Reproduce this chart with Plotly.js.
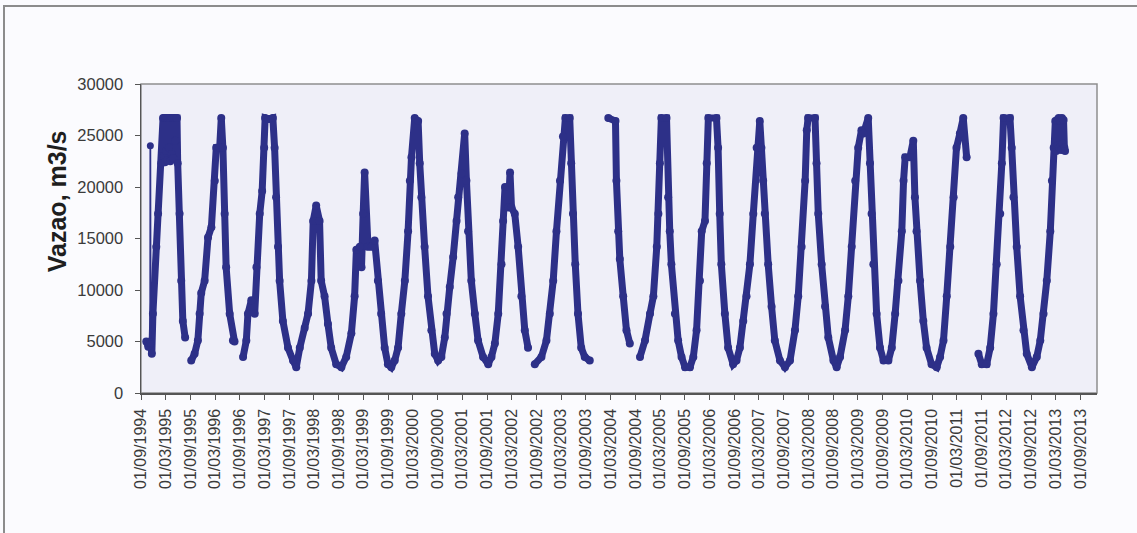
<!DOCTYPE html>
<html>
<head>
<meta charset="utf-8">
<script src="https://cdn.plot.ly/plotly-3.0.1.min.js"></script>
<style>
  html, body { margin: 0; padding: 0; background: #FBFBFE; overflow: hidden; }
  #chart { width: 1137px; height: 533px; }
  #frame { position: absolute; left: 3px; top: 5px; width: 1300px; height: 700px;
           border-left: 2px solid #8c8c8c; border-top: 2px solid #8c8c8c; pointer-events: none; }
</style>
</head>
<body>
<div id="chart"></div>
<div id="frame"></div>
<script>
// Daily flow (vazao, m3/s); null marks a gap in the record
const dates = [
  "1994-10-10","1994-10-25","1994-11-08","1994-11-11","1994-11-20","1994-11-28","1994-12-23",
  "1995-01-05","1995-01-29","1995-02-11","1995-02-16","1995-02-20","1995-02-25","1995-03-01",
  "1995-03-05","1995-03-10","1995-03-15","1995-03-20","1995-03-26","1995-04-01","1995-04-05",
  "1995-04-10","1995-04-16","1995-04-22","1995-04-28","1995-05-05","1995-05-12","1995-05-18",
  "1995-05-25","1995-05-30","1995-06-13",
  "1995-06-25","1995-07-07","1995-07-24","1995-08-15",
  "1995-09-07","1995-10-02","1995-10-26","1995-11-08","1995-11-20","1995-12-15","1996-01-09",
  "1996-02-03","1996-02-28","1996-03-10","1996-04-04","1996-04-16","1996-04-28","1996-05-11",
  "1996-05-22","1996-06-17","1996-07-11","1996-07-23","1996-08-15",
  "1996-09-24","1996-10-18","1996-10-30","1996-11-24","1996-12-19","1997-01-01","1997-01-25",
  "1997-02-12","1997-02-27","1997-03-06","1997-04-01","1997-05-02","1997-05-15","1997-05-26",
  "1997-06-09","1997-06-21","1997-07-15","1997-08-22","1997-09-28","1997-10-22","1997-11-17",
  "1997-12-23","1998-01-17","1998-02-11","1998-02-24","1998-03-18","1998-04-12","1998-04-24",
  "1998-05-19","1998-06-13","1998-07-07","1998-08-13","1998-09-20","1998-10-26","1998-12-03",
  "1998-12-27","1999-01-09","1999-02-04","1999-02-16","1999-02-28","1999-03-11","1999-04-05",
  "1999-04-29","1999-05-24","1999-06-17","1999-07-11","1999-08-06","1999-08-30","1999-09-24",
  "1999-10-19","1999-11-13","1999-12-07","2000-01-02","2000-01-26","2000-02-08","2000-02-20",
  "2000-03-15","2000-04-09","2000-04-21","2000-05-03","2000-05-27","2000-06-21","2000-07-16",
  "2000-08-10","2000-09-04","2000-09-28","2000-10-23","2000-11-05","2000-11-29","2000-12-24",
  "2001-01-18","2001-01-30","2001-02-24","2001-03-19","2001-04-01","2001-04-13","2001-05-07",
  "2001-06-02","2001-06-26","2001-08-02","2001-09-09","2001-10-03","2001-10-28","2001-11-22",
  "2001-12-16","2001-12-28","2002-01-11","2002-02-05","2002-02-17","2002-02-28","2002-03-24",
  "2002-04-18","2002-05-12","2002-06-06","2002-06-30","2002-07-25",
  "2002-08-19","2002-10-07","2002-11-13","2002-12-08","2003-01-02","2003-01-26","2003-02-21",
  "2003-03-15","2003-04-02","2003-05-04","2003-05-15","2003-05-28","2003-06-14","2003-07-04",
  "2003-07-28","2003-08-23","2003-09-29","2003-12-01",
  "2004-02-13","2004-04-06","2004-04-13","2004-04-26","2004-05-08","2004-06-02","2004-06-26",
  "2004-07-21","2004-09-01",
  "2004-10-04","2004-11-10","2004-12-17","2005-01-11","2005-02-05","2005-02-17","2005-02-28",
  "2005-03-11","2005-04-18","2005-04-30","2005-05-12","2005-05-24","2005-06-19","2005-07-13",
  "2005-08-07","2005-09-02","2005-10-08","2005-11-02","2005-11-26","2005-12-21","2006-01-03",
  "2006-01-27","2006-02-09","2006-02-21","2006-04-22","2006-05-04","2006-05-16","2006-05-28",
  "2006-06-23","2006-07-17","2006-08-23","2006-09-17","2006-10-12","2006-11-06","2006-11-30",
  "2006-12-25","2007-01-19","2007-02-13","2007-03-08","2007-03-20","2007-04-02","2007-04-14",
  "2007-05-09","2007-06-03","2007-06-27","2007-08-04","2007-09-10","2007-10-17","2007-11-23",
  "2007-12-17","2008-01-11","2008-02-06","2008-02-18","2008-02-28","2008-04-19","2008-04-30",
  "2008-05-13","2008-06-07","2008-07-02","2008-07-26","2008-09-02","2008-09-26","2008-10-21",
  "2008-11-27","2008-12-21","2009-01-15","2009-02-10","2009-03-04","2009-03-28","2009-04-11",
  "2009-05-17","2009-05-30","2009-06-11","2009-06-24","2009-07-18","2009-08-12","2009-09-07",
  "2009-10-13","2009-11-07","2009-12-02","2009-12-26","2010-01-20","2010-02-02","2010-02-14",
  "2010-03-21","2010-04-15","2010-04-27","2010-05-09","2010-06-04","2010-06-28","2010-07-22",
  "2010-08-28","2010-10-05","2010-10-30","2010-11-24","2010-12-18","2011-01-13","2011-02-07",
  "2011-02-28","2011-03-25","2011-04-19","2011-05-14","2011-07-01",
  "2011-08-09","2011-09-03","2011-10-09","2011-11-04","2011-11-28","2011-12-22","2012-01-17",
  "2012-01-29","2012-02-11","2012-03-29","2012-04-11","2012-04-24","2012-05-18","2012-06-12",
  "2012-07-07","2012-07-31","2012-09-07","2012-10-13","2012-11-08","2012-12-02","2012-12-26",
  "2013-01-21","2013-02-02","2013-02-15","2013-02-27","2013-03-06","2013-03-12","2013-03-18",
  "2013-03-24","2013-03-30","2013-04-05","2013-04-11","2013-04-17","2013-04-23","2013-04-29",
  "2013-05-05","2013-05-10"
];
const vazao = [
  5000,4500,5000,4800,3800,7700,14200,
  17400,22300,26700,23000,26700,22400,26700,
  23500,26700,22600,26700,23800,26700,22500,
  26700,23200,26700,22800,26700,24500,26700,
  26700,22300,17400,
  10900,7000,5400,null,
  3150,3800,5100,7700,9700,10900,15100,
  16100,20600,23800,23800,26700,23800,17400,
  12200,7700,5100,5000,null,
  3500,5100,7700,9000,7700,12200,17400,
  19600,23800,26700,26600,26700,23800,19000,
  14200,10900,7000,4400,3150,2500,4400,
  6300,7700,10900,16700,18200,16700,10900,
  9400,6700,4400,2800,2500,3500,5800,
  9400,13900,14200,12200,17400,21400,14200,
  14200,14800,10900,7700,4400,2800,2500,
  3150,4400,7700,10900,15700,20600,22900,
  26700,26400,22300,19000,14200,9400,6100,
  3800,3150,3500,5400,7700,10300,13200,
  16700,19000,21300,25200,20600,15700,10900,
  7700,5100,3500,2800,3500,4800,7700,
  12500,16700,20000,18000,21400,18000,17400,
  14200,9400,6100,4400,null,
  2800,3500,5100,7700,10900,15700,20600,
  24900,26700,26700,22300,17400,12500,7700,
  4400,3500,3150,null,
  26700,26400,20600,15700,13000,9400,6100,
  4800,null,
  3500,5100,7700,9400,14200,17400,22300,
  26700,26700,19000,15700,12500,7700,5100,
  3500,2500,2500,3500,6100,10900,15700,
  16700,22300,26700,26700,23800,17400,12500,
  7700,4400,2800,3150,4400,7000,9400,
  12500,17400,23800,26400,23800,20600,17400,
  12500,8400,5100,3150,2500,3150,6100,
  9400,14200,20600,25500,26700,26700,22300,
  17400,12500,8400,5400,3150,2500,3500,
  6100,9400,14200,20600,23800,25500,25200,
  26700,22300,17400,12500,7700,4400,3150,
  3150,4400,7700,10900,15700,20600,22900,
  22900,24500,19000,15700,10900,7000,4400,
  2800,2500,3500,5100,9400,14200,19000,
  23800,25200,26700,22900,null,
  3800,2800,2800,4400,7700,12500,17400,
  22300,26700,26700,23800,19000,14200,9400,
  6100,3800,2500,3500,5100,7700,10900,
  15700,20600,23800,26400,23500,26500,24000,
  26700,23800,26400,23600,26700,24200,26500,
  23800,23500
];
// Isolated first reading (spike at the start of the record)
const spikeDates = ["1994-11-08","1994-11-09","1994-11-11"];
const spikeVazao = [5000, 24000, 4800];

const yTicks = [0, 5000, 10000, 15000, 20000, 25000, 30000];
const yTitle = "Vazao, m3/s";

const navy = "#2D3088";
const traces = [
  {
    x: dates, y: vazao, type: "scatter", mode: "lines+markers",
    line: { color: navy, width: 7 },
    marker: { color: navy, size: 8, symbol: "circle" },
    connectgaps: false, showlegend: false, hoverinfo: "x+y"
  },
  {
    x: spikeDates, y: spikeVazao, type: "scatter", mode: "lines+markers",
    line: { color: navy, width: 1.8 },
    marker: { color: navy, size: 7 },
    showlegend: false, hoverinfo: "x+y"
  }
];

const layout = {
  width: 1137, height: 533,
  margin: { l: 141, r: 40, t: 84, b: 140 },
  paper_bgcolor: "#FBFBFE",
  plot_bgcolor: "#EFEFF8",
  font: { family: "Liberation Sans, Arial, sans-serif", color: "#3a3a3a" },
  showlegend: false,
  xaxis: {
    type: "date",
    range: ["1994-09-01", "2014-01-01"],
    tick0: "1994-09-01", dtick: "M6",
    tickformat: "%d/%m/%Y",
    tickangle: -90,
    ticks: "outside", ticklen: 5, tickcolor: "#555", tickwidth: 1,
    tickfont: { size: 16, color: "#3a3a3a" },
    showgrid: false, zeroline: false,
    showline: true, linecolor: "#555", linewidth: 1.5,
    ticklabelstandoff: 3
  },
  yaxis: {
    range: [0, 30000],
    tickvals: yTicks,
    tickformat: "d",
    ticks: "outside", ticklen: 5, tickcolor: "#555", tickwidth: 1,
    tickfont: { size: 16.5, color: "#3a3a3a" },
    showgrid: false, zeroline: false,
    showline: true, linecolor: "#555", linewidth: 1.5,
    ticklabelstandoff: 8
  },
  shapes: [
    { type: "rect", xref: "paper", yref: "paper", x0: 0, x1: 1, y0: 0, y1: 1,
      line: { color: "#8e8e8e", width: 1.5 }, layer: "below" }
  ],
  annotations: [
    { text: "<b>" + yTitle + "</b>", xref: "paper", yref: "paper",
      x: -0.087, y: 0.62, xanchor: "center", yanchor: "middle",
      textangle: -90, showarrow: false,
      font: { size: 25, color: "#1e1e1e", family: "Liberation Sans, Arial, sans-serif" } }
  ]
};

Plotly.newPlot("chart", traces, layout, { staticPlot: true, displayModeBar: false });
</script>
</body>
</html>
